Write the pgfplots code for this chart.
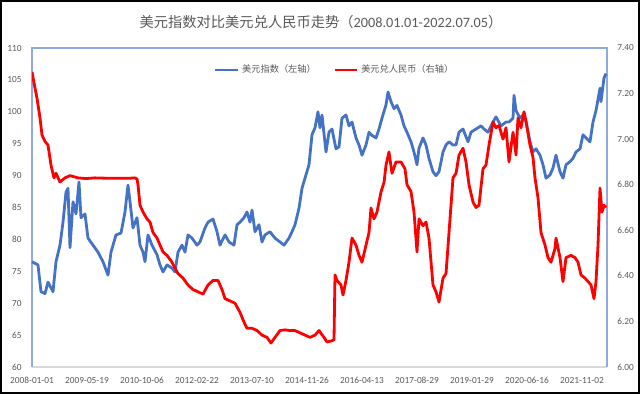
\documentclass[border=0pt]{standalone}
\usepackage{pgfplots}
\pgfplotsset{compat=1.18}
\usepackage{pgfplotstable}
\usepackage{fontspec}
\setmainfont{Carlito}
\newfontfamily\cjk{Noto Sans CJK SC}
\definecolor{dxyblue}{HTML}{4472C4}
\definecolor{cnyred}{HTML}{FF0000}
\definecolor{framebl}{HTML}{8FAADC}
\definecolor{txtgray}{HTML}{595959}

% x = trading-period index (0 = 2008-01-01, 55 units per axis label step)
\pgfplotstableread{
x y
0 76.5
6 76.0
9 71.8
13 71.5
16 73.3
21 71.8
24 76.5
28 79.1
31 82.7
34 87.4
36 88.0
38 78.7
41 85.9
44 84.0
47 89.0
49 83.4
53 84.0
56 80.2
61 79.1
66 78.0
71 76.5
76 74.4
79 78.0
84 80.7
89 81.0
93 84.3
96 88.5
98 85.9
101 81.8
105 83.4
108 79.1
111 78.0
113 76.5
116 80.7
120 79.1
125 77.6
128 76.0
131 74.9
135 76.0
140 75.5
143 74.9
146 78.0
150 79.1
153 78.0
156 80.7
160 80.2
165 79.1
168 79.6
173 81.8
176 82.7
181 83.2
185 81.2
188 79.1
193 80.7
197 79.6
202 79.1
205 82.3
208 82.7
212 83.4
215 84.3
218 82.7
220 84.6
223 81.2
227 82.3
230 79.6
233 80.7
238 81.2
243 80.2
248 79.6
252 79.1
257 80.2
260 81.2
263 82.3
267 84.9
270 88.0
273 89.6
277 91.7
280 96.4
283 97.5
286 100.0
288 97.5
290 99.5
294 93.7
297 96.8
300 97.3
304 94.2
307 94.5
310 99.0
314 99.5
317 97.8
320 98.4
324 95.9
327 94.8
330 93.2
334 94.8
337 96.8
340 96.3
344 95.9
347 97.3
350 99.0
354 101.1
356 103.1
359 101.6
362 100.5
365 101.0
369 99.5
372 97.8
375 96.8
379 95.3
382 93.7
385 91.7
387 94.3
391 95.9
394 94.8
397 92.7
401 90.6
404 90.0
407 90.6
411 93.7
414 94.8
417 95.3
421 94.8
424 94.8
427 96.8
431 97.3
436 95.3
439 96.8
444 97.3
449 97.8
452 97.3
456 96.8
461 98.4
464 99.2
469 97.8
474 98.4
477 98.4
481 99.0
482 102.6
484 100.2
488 99.0
491 99.5
494 98.4
498 95.3
501 93.7
504 94.2
508 93.2
511 91.7
514 89.6
518 90.1
521 91.2
524 93.2
528 90.6
531 89.6
534 91.7
538 92.2
541 92.7
544 93.7
548 94.2
551 96.4
554 95.9
558 95.3
561 98.4
564 100.2
568 103.7
569 101.6
572 105.3
574 106.0
}\dxy

\pgfplotstableread{
x y
0 7.295
3 7.224
5 7.18
8 7.093
10 7.018
13 6.99
16 6.974
19 6.886
22 6.83
24 6.85
28 6.812
33 6.83
38 6.84
46 6.83
54 6.827
63 6.83
79 6.828
96 6.828
103 6.83
105 6.825
106 6.80
108 6.71
111 6.68
115 6.65
118 6.636
121 6.59
125 6.566
128 6.535
131 6.505
135 6.49
140 6.46
143 6.434
146 6.41
151 6.39
156 6.36
161 6.34
166 6.33
171 6.32
176 6.36
181 6.38
186 6.38
190 6.34
193 6.30
198 6.29
203 6.28
208 6.24
212 6.197
215 6.17
220 6.17
225 6.16
230 6.14
235 6.13
239 6.105
243 6.13
248 6.16
253 6.163
258 6.16
263 6.16
268 6.15
273 6.14
278 6.13
283 6.14
287 6.16
292 6.13
295 6.11
300 6.115
302 6.12
303 6.404
305 6.38
309 6.36
311 6.316
314 6.38
317 6.46
320 6.566
324 6.535
327 6.49
330 6.46
334 6.535
337 6.59
339 6.698
342 6.65
345 6.68
349 6.768
352 6.81
354 6.886
357 6.944
360 6.85
364 6.90
369 6.90
373 6.87
375 6.80
379 6.77
382 6.68
385 6.505
387 6.65
391 6.62
394 6.636
397 6.566
401 6.36
404 6.33
407 6.285
411 6.39
414 6.41
417 6.59
421 6.83
424 6.85
427 6.93
431 6.96
434 6.90
437 6.80
441 6.724
444 6.70
447 6.71
451 6.87
454 6.886
457 6.974
461 7.075
464 7.05
467 7.06
471 7.00
474 7.05
477 6.90
481 7.03
483 6.97
484 6.93
486 7.093
489 7.05
492 7.12
494 7.08
498 6.974
501 6.92
503 6.83
506 6.742
509 6.59
513 6.535
516 6.48
519 6.46
523 6.52
524 6.566
528 6.48
531 6.375
534 6.48
539 6.49
543 6.48
546 6.46
549 6.404
553 6.39
556 6.375
559 6.36
562 6.30
564 6.375
566 6.535
568 6.785
570 6.68
572 6.71
574 6.70
}\cny

\begin{document}
\begin{tikzpicture}[x=0.75pt,y=0.75pt]
\path[use as bounding box] (0,0) rectangle (640,394);
\draw[black, line width=1.2pt] (0.8,0.8) rectangle (639.2,393.2);
\node[text=txtgray, font=\fontsize{10.7}{12}\selectfont] at (321,372)
  {{\cjk 美元指数对比美元兑人民币走势（}2008.01.01-2022.07.05{\cjk ）}};

\begin{axis}[
  at={(24pt,20.25pt)}, anchor=south west,
  scale only axis, width=431.25pt, height=239.25pt,
  xmin=0, xmax=575, ymin=60, ymax=110,
  ytick={60,65,...,110},
  xtick={0,55,...,550},
  xticklabels={2008-01-01,2009-05-19,2010-10-06,2012-02-22,2013-07-10,2014-11-26,2016-04-13,2017-08-29,2019-01-29,2020-06-16,2021-11-02},
  axis line style={draw=none},
  major tick length=0pt,
  tick label style={font=\fontsize{7}{8}\selectfont, text=txtgray},
  /pgf/number format/assume math mode=true,
  yticklabel style={xshift=-4.2pt},
  xticklabel style={yshift=-4pt},
  clip=false,
]
\draw[black!15, line width=0.8pt] (rel axis cs:0,0) -- (rel axis cs:1,0);
\draw[framebl, line width=0.9pt] (rel axis cs:0,0) -- (rel axis cs:0,1) -- (rel axis cs:1,1) -- (rel axis cs:1,0);
\addplot[dxyblue, line width=2.1pt, line join=round] table[x=x,y=y] {\dxy};
\end{axis}

\begin{axis}[
  at={(24pt,20.25pt)}, anchor=south west,
  scale only axis, width=431.25pt, height=239.25pt,
  xmin=0, xmax=575, ymin=6, ymax=7.4,
  axis x line=none,
  axis y line*=right,
  axis line style={draw=none},
  ytick={6.0,6.2,6.4,6.6,6.8,7.0,7.2,7.4},
  major tick length=0pt,
  tick label style={font=\fontsize{7}{8}\selectfont, text=txtgray},
  /pgf/number format/assume math mode=true,
  yticklabel style={xshift=4.2pt, /pgf/number format/.cd, fixed, fixed zerofill, precision=2},
  legend columns=2,
  legend style={at={(0.527,0.931)}, anchor=center, draw=none, fill=none,
    font=\fontsize{6.9}{8}\selectfont\cjk, text=txtgray,
    /tikz/every even column/.append style={column sep=11pt}},
  legend image code/.code={\draw[#1] (0pt,0pt) -- (17pt,0pt);},
]
\addlegendimage{dxyblue, line width=2.1pt}
\addlegendentry{美元指数（左轴）}
\addplot[cnyred, line width=2.1pt, line join=round] table[x=x,y=y] {\cny};
\addlegendentry{美元兑人民币（右轴）}
\end{axis}
\end{tikzpicture}
\end{document}
